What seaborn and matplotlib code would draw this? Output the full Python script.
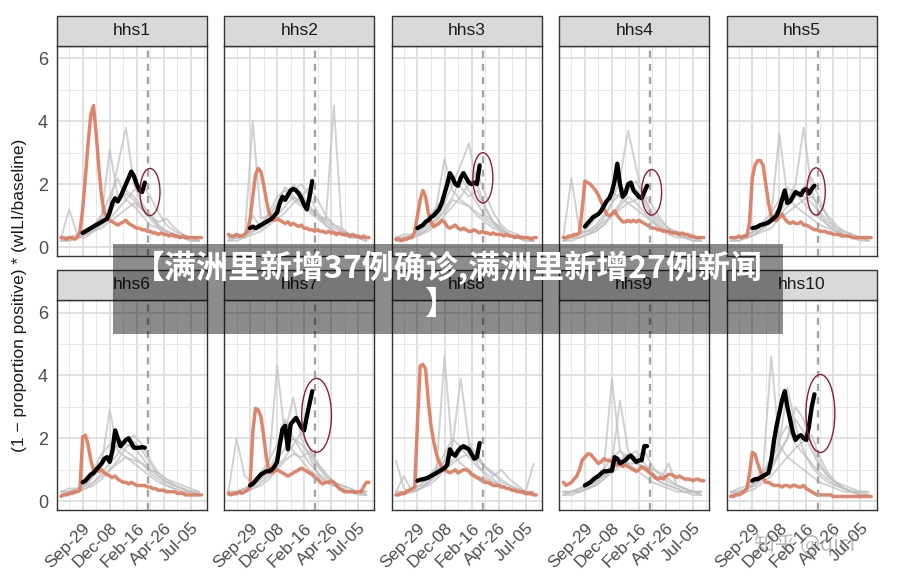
import numpy as np
import pandas as pd
import matplotlib
matplotlib.use("Agg")
import matplotlib.pyplot as plt
import seaborn as sns
from matplotlib.patches import Rectangle, Ellipse
from matplotlib.ticker import FixedLocator

# ---------------- data ----------------
regions = ["hhs1", "hhs2", "hhs3", "hhs4", "hhs5", "hhs6", "hhs7", "hhs8", "hhs9", "hhs10"]
tick_weeks = [8, 18, 28, 38, 48]
tick_labels = ["Sep-29", "Dec-08", "Feb-16", "Apr-26", "Jul-05"]
forecast_week = 32.2
current_start_week = 8
gray_step = 3

# pandemic season (orange), weekly from week 0
orange_hhs1 = [0.3,0.3,0.25,0.3,0.3,0.25,0.3, 0.5,1.2,2.2,3.3,4.2,4.5,3.6,2.5,1.6,1.1,0.95, 0.85,0.8,0.75,0.7,0.75,0.8,0.85,0.75,0.7,0.65,0.6,0.6,0.55, 0.55,0.5,0.5,0.45,0.45,0.4,0.45,0.4,0.4,0.35,0.4,0.35,0.35,0.3,0.35,0.3,0.3,0.3,0.3,0.3,0.3,0.3]
orange_hhs2 = [0.4,0.35,0.35,0.4,0.35,0.35,0.4, 0.5,0.9,1.6,2.3,2.5,2.4,2.0,1.5,1.1,0.9,0.85, 0.9,0.85,0.8,0.75,0.8,0.7,0.75,0.7,0.65,0.7,0.6,0.6,0.55, 0.55,0.5,0.55,0.5,0.5,0.45,0.5,0.45,0.45,0.4,0.45,0.4,0.4,0.4,0.35,0.4,0.35,0.35,0.3,0.35,0.3,0.3]
orange_hhs3 = [0.25,0.25,0.2,0.25,0.25,0.3,0.3, 0.5,1.0,1.5,1.8,1.6,1.1,0.8,0.65,0.7,0.75,0.85, 0.8,0.65,0.6,0.65,0.7,0.6,0.55,0.6,0.55,0.5,0.5,0.55,0.5, 0.45,0.5,0.45,0.45,0.4,0.45,0.4,0.4,0.4,0.35,0.4,0.35,0.35,0.3,0.35,0.3,0.3,0.3,0.3,0.25,0.3,0.3]
orange_hhs4 = [0.3,0.3,0.35,0.35,0.4,0.4,0.45, 1.2,2.1,2.05,2.0,1.9,1.8,1.65,1.45,1.25,1.05,1.0, 1.05,1.15,1.0,0.9,0.8,0.8,0.85,0.8,0.85,0.8,0.85,0.8,0.75, 0.7,0.65,0.6,0.6,0.55,0.55,0.5,0.5,0.5,0.45,0.45,0.45,0.4,0.45,0.4,0.4,0.35,0.35,0.3,0.3,0.3,0.3]
orange_hhs5 = [0.3,0.3,0.3,0.35,0.3,0.35,0.35, 0.8,2.2,2.6,2.75,2.75,2.6,2.0,1.4,1.0,0.85,0.85, 0.95,1.05,0.9,0.8,0.75,0.8,0.75,0.75,0.8,0.7,0.7,0.65,0.6, 0.55,0.55,0.5,0.5,0.5,0.45,0.45,0.4,0.4,0.4,0.35,0.35,0.35,0.35,0.3,0.3,0.3,0.3,0.3,0.3,0.3,0.3]
orange_hhs6 = [0.15,0.2,0.2,0.25,0.25,0.3,0.3, 0.35,2.05,2.1,1.8,1.3,1.0,1.0,0.95,1.0,0.9,0.85, 0.8,0.75,0.8,0.7,0.65,0.6,0.6,0.55,0.6,0.55,0.5,0.5,0.5, 0.5,0.45,0.45,0.4,0.4,0.35,0.35,0.35,0.3,0.3,0.3,0.3,0.25,0.25,0.25,0.2,0.2,0.2,0.2,0.2,0.2,0.2]
orange_hhs7 = [0.25,0.2,0.25,0.25,0.3,0.25,0.3, 0.35,0.45,2.2,2.95,2.9,2.7,2.1,1.4,0.95,0.9,0.95, 1.0,0.95,0.9,0.85,0.8,0.85,0.9,0.95,1.0,1.05,1.0,0.95,0.9, 0.85,0.75,0.7,0.6,0.55,0.6,0.6,0.65,0.6,0.5,0.4,0.35,0.3,0.3,0.3,0.3,0.28,0.3,0.3,0.45,0.6,0.6]
orange_hhs8 = [0.2,0.2,0.25,0.25,0.3,0.35,0.4, 0.45,2.5,4.3,4.35,4.2,3.2,2.4,1.9,1.5,1.25,1.1, 1.0,0.95,0.9,0.95,1.0,0.9,0.95,1.0,1.0,0.95,0.85,0.8,0.75, 0.7,0.65,0.6,0.6,0.55,0.5,0.5,0.5,0.45,0.45,0.4,0.4,0.35,0.35,0.3,0.3,0.3,0.25,0.25,0.25,0.2,0.2]
orange_hhs9 = [0.6,0.5,0.55,0.6,0.7,0.8,1.0, 1.3,1.4,1.5,1.5,1.4,1.3,1.2,1.25,1.35,1.3,1.3, 1.25,1.2,1.15,1.2,1.1,1.15,1.1,1.05,1.0,0.95,1.0,1.1,1.05, 1.0,0.9,0.85,0.75,0.7,0.75,0.7,0.8,0.85,0.85,0.8,0.75,0.8,0.75,0.7,0.7,0.7,0.65,0.7,0.7,0.65,0.65]
orange_hhs10 = [0.15,0.15,0.2,0.2,0.25,0.3,0.4, 0.9,1.55,1.5,1.2,0.95,0.75,0.6,0.6,0.55,0.5,0.5, 0.5,0.45,0.5,0.5,0.45,0.5,0.5,0.45,0.45,0.5,0.4,0.35,0.3, 0.25,0.2,0.2,0.2,0.2,0.2,0.2,0.15,0.15,0.15,0.15,0.15,0.15,0.15,0.15,0.15,0.15,0.15,0.15,0.15,0.15,0.15]

# current season (black), weekly from week 8
black_hhs1 = [0.45,0.5,0.55,0.6,0.65,0.7,0.75,0.8,0.85,0.9, 1.1,1.4,1.55,1.45,1.6,1.8,2.0,2.2,2.4,2.25, 2.0,1.8,1.75,2.05]
black_hhs2 = [0.6,0.65,0.6,0.65,0.7,0.75,0.8,0.85,0.9,1.0, 1.1,1.4,1.6,1.5,1.65,1.8,1.85,1.8,1.7,1.55, 1.35,1.2,1.6,2.1]
black_hhs3 = [0.6,0.65,0.7,0.8,0.85,0.95,1.0,1.1,1.2,1.4, 1.7,2.0,2.35,2.2,2.0,1.95,2.2,2.35,2.2,2.05, 2.0,2.05,2.0,2.6]
black_hhs4 = [0.65,0.75,0.85,0.95,1.0,1.05,1.15,1.3,1.45,1.55, 1.75,2.1,2.65,2.0,1.6,1.7,2.0,2.05,1.8,1.7, 1.6,1.55,1.75,1.95]
black_hhs5 = [0.6,0.62,0.65,0.7,0.72,0.75,0.78,0.85,0.92,1.0, 1.2,1.5,1.8,1.4,1.45,1.6,1.75,1.7,1.65,1.8, 1.85,1.7,1.85,1.95]
black_hhs6 = [0.6,0.65,0.75,0.85,0.9,1.0,1.1,1.2,1.35,1.4, 1.25,1.6,2.25,2.0,1.75,1.85,1.95,2.0,1.85,1.7, 1.7,1.7,1.72,1.7]
black_hhs7 = [0.5,0.55,0.65,0.75,0.85,0.9,0.95,0.95,1.0,1.1, 1.25,1.8,2.3,2.4,1.65,2.45,2.55,2.65,2.5,2.35, 2.25,2.7,3.1,3.5]
black_hhs8 = [0.65,0.68,0.7,0.72,0.75,0.8,0.85,0.9,0.95,1.0, 1.05,1.15,1.65,1.5,1.45,1.6,1.7,1.75,1.7,1.65, 1.5,1.35,1.4,1.85]
black_hhs9 = [0.5,0.55,0.6,0.68,0.75,0.8,0.88,0.95,0.95,0.97, 0.97,1.4,1.35,1.2,1.25,1.3,1.4,1.45,1.35,1.25, 1.3,1.3,1.75,1.75]
black_hhs10 = [0.65,0.7,0.7,0.75,0.8,0.85,0.9,1.3,1.9,2.4, 2.8,3.2,3.5,3.0,2.6,2.2,1.95,2.05,2.1,2.0, 1.95,2.4,3.0,3.4]

# past seasons (gray), every 3 weeks from week 0
gray_hhs1 = [
    [0.2,0.3,0.3,0.4,0.6,0.9,1.3,2.6,3.8,2.0,1.4,1.0,0.7,0.5,0.4,0.3,0.2,0.2],
    [0.3,0.3,0.4,0.5,0.7,1.0,3.1,1.6,1.8,1.6,1.3,1.0,0.7,0.5,0.4,0.3,0.3,0.2],
    [0.2,0.2,0.3,0.3,0.5,0.7,0.9,1.2,1.5,1.8,2.0,1.6,1.1,0.7,0.5,0.4,0.3,0.2],
    [0.3,1.2,0.4,0.4,0.5,0.6,0.8,1.0,1.2,1.4,1.2,1.0,0.8,0.9,0.6,0.4,0.3,0.3],
    [0.3,0.3,0.3,0.4,0.5,0.8,1.1,1.5,1.7,1.5,1.2,0.9,0.6,0.5,0.4,0.3,0.3,0.3],
    [0.2,0.2,0.3,0.4,0.6,1.0,1.6,2.2,1.5,1.3,1.0,0.7,0.6,0.4,0.3,0.3,0.2,0.2]]
gray_hhs2 = [
    [0.3,0.3,0.4,1.0,0.6,0.8,1.2,1.6,2.0,1.7,1.3,1.0,0.7,0.5,0.4,0.3,0.3,0.3],
    [0.2,0.3,0.3,4.0,0.9,1.0,1.3,1.5,1.8,2.0,1.6,1.1,0.8,4.5,0.5,0.4,0.3,0.2],
    [0.3,0.4,0.4,0.5,0.7,1.0,1.4,1.9,1.6,1.4,1.2,1.0,0.9,0.7,0.5,0.4,0.3,0.3],
    [0.2,0.2,0.3,0.4,0.5,0.7,0.9,1.1,1.4,1.6,1.9,1.5,1.0,0.7,0.6,0.4,0.3,0.2],
    [0.3,0.3,0.3,0.5,0.7,1.1,1.6,1.8,1.5,1.3,1.1,0.9,0.7,0.5,0.4,0.3,0.3,0.2],
    [0.2,0.3,0.4,0.5,0.6,0.8,1.0,1.3,1.6,1.4,1.2,1.0,0.8,0.6,0.5,0.4,0.3,0.3]]
gray_hhs3 = [
    [0.2,0.2,0.3,0.4,0.6,0.9,1.4,2.0,2.6,3.3,2.0,1.3,0.8,0.5,0.4,0.3,0.2,0.2],
    [0.3,0.3,0.3,0.5,0.8,1.2,1.7,2.2,1.9,1.6,1.8,1.2,0.8,0.6,0.4,0.3,0.3,0.2],
    [0.2,0.2,0.3,0.4,0.5,0.7,1.0,1.3,1.6,2.0,2.4,1.7,1.1,0.7,0.5,0.4,0.3,0.3],
    [0.3,0.4,0.4,0.5,0.7,0.9,1.1,1.5,1.4,1.3,1.1,0.9,0.7,0.5,0.4,0.3,0.3,0.2],
    [0.3,0.3,0.4,0.6,0.9,1.3,2.8,1.8,1.5,1.3,1.0,0.8,0.6,0.5,0.4,0.3,0.3,0.2],
    [0.2,0.3,0.3,0.4,0.6,0.8,1.2,1.6,2.2,1.8,1.4,1.0,0.8,0.6,0.4,0.3,0.2,0.2]]
gray_hhs4 = [
    [0.3,2.2,0.5,0.5,0.6,0.8,1.0,1.3,1.6,1.4,1.1,0.8,0.6,0.5,0.4,0.3,0.3,0.3],
    [0.2,0.3,0.3,0.4,0.6,0.9,1.4,2.2,3.7,2.5,1.4,0.9,0.6,0.4,0.3,0.3,0.2,0.2],
    [0.3,0.3,0.4,0.5,0.7,1.0,1.4,1.7,2.0,1.8,1.5,1.1,0.8,0.6,0.4,0.3,0.3,0.2],
    [0.2,0.2,0.3,0.4,0.5,0.7,1.0,1.2,1.4,1.5,1.7,1.3,0.9,0.6,0.5,0.4,0.3,0.3],
    [0.3,0.3,0.4,0.6,0.9,1.3,1.7,1.6,1.4,1.2,1.0,0.8,0.6,0.5,0.4,0.3,0.3,0.3],
    [0.2,0.3,0.3,0.4,0.5,0.7,1.0,1.4,1.8,2.1,1.6,1.0,0.7,0.5,0.4,0.3,0.2,0.2]]
gray_hhs5 = [
    [0.3,0.3,0.4,0.5,0.7,1.0,3.6,1.6,1.3,1.1,0.9,0.7,0.6,0.5,0.4,0.3,0.3,0.3],
    [0.2,0.3,0.3,0.4,0.6,0.8,1.1,1.5,2.0,3.8,1.8,1.0,0.7,0.5,0.4,0.3,0.2,0.2],
    [0.3,0.3,0.4,0.5,0.7,0.9,1.3,1.6,1.8,1.6,1.4,1.1,0.8,0.6,0.5,0.4,0.3,0.3],
    [0.2,0.2,0.3,0.4,0.5,0.6,0.9,1.1,1.3,1.5,1.6,1.3,1.0,0.7,0.5,0.4,0.3,0.2],
    [0.3,0.3,0.4,0.5,0.8,1.1,1.5,1.9,1.7,1.4,1.1,0.9,0.7,0.5,0.4,0.3,0.3,0.2],
    [0.2,0.2,0.3,0.4,0.6,0.8,1.0,1.3,1.6,1.9,2.2,1.5,0.9,0.6,0.4,0.3,0.3,0.2]]
gray_hhs6 = [
    [0.2,0.3,0.3,0.5,0.8,1.2,2.9,1.6,1.4,1.2,1.0,0.8,0.6,0.5,0.4,0.3,0.3,0.2],
    [0.3,0.3,0.4,0.6,1.0,1.5,1.8,2.0,1.8,1.7,1.4,1.0,0.8,0.6,0.5,0.4,0.3,0.3],
    [0.2,0.2,0.3,0.4,0.6,0.9,1.2,1.5,1.9,2.1,1.8,1.3,0.9,0.7,0.5,0.4,0.3,0.2],
    [0.3,0.4,0.4,0.5,0.6,0.8,1.0,1.2,1.4,1.3,1.2,1.0,0.9,0.7,0.6,0.5,0.4,0.3],
    [0.3,0.3,0.4,0.5,0.8,1.1,1.5,1.8,1.6,1.4,1.2,0.9,0.7,0.5,0.4,0.3,0.3,0.3],
    [0.2,0.2,0.3,0.4,0.5,0.7,1.0,1.3,1.7,1.9,1.6,1.2,0.8,0.6,0.5,0.4,0.3,0.2]]
gray_hhs7 = [
    [0.3,2.0,0.8,0.6,0.8,1.2,4.3,2.0,1.6,1.3,1.0,0.8,0.6,0.5,0.4,0.3,0.3,0.3],
    [0.2,0.3,0.4,0.5,0.7,1.0,1.5,2.2,3.3,2.0,1.4,0.9,0.6,0.5,0.4,0.3,0.2,0.2],
    [0.3,0.3,0.4,0.5,0.7,0.9,1.3,1.7,2.0,1.8,1.5,1.1,0.8,0.6,0.5,0.4,0.3,0.3],
    [0.2,0.2,0.3,0.4,0.5,0.7,1.0,1.3,1.5,1.4,1.6,1.2,0.9,0.6,0.5,0.4,0.3,0.2],
    [0.3,0.3,0.4,0.6,0.9,1.3,1.8,2.6,2.0,1.6,1.2,0.9,0.7,0.5,0.4,0.3,0.3,0.3],
    [0.2,0.3,0.3,0.4,0.6,0.8,1.1,1.4,1.8,2.2,1.7,1.2,0.8,0.6,0.4,0.3,0.3,0.2]]
gray_hhs8 = [
    [0.3,0.8,0.3,0.4,0.6,1.0,4.6,1.5,1.2,1.0,0.8,0.7,0.6,0.5,0.4,0.3,0.3,0.2],
    [0.2,0.3,0.3,0.4,0.6,0.9,1.3,1.8,3.9,1.9,1.2,0.8,0.6,0.5,0.4,0.3,0.2,0.2],
    [0.3,0.3,0.4,0.5,0.7,1.0,1.3,1.5,1.7,1.6,1.4,1.1,0.9,0.7,0.5,0.4,0.3,0.3],
    [0.2,0.2,0.3,0.4,0.5,0.7,1.0,1.2,1.4,1.5,1.3,1.1,0.8,1.0,0.7,0.5,0.3,0.2],
    [0.3,0.3,0.4,0.5,0.8,1.1,1.5,2.0,1.7,1.4,1.1,0.9,0.7,0.5,0.4,0.3,0.3,0.3],
    [1.3,0.4,0.3,0.4,0.6,0.8,1.1,1.3,1.6,1.8,1.5,1.1,0.9,0.6,0.5,0.4,0.3,1.2]]
gray_hhs9 = [
    [0.3,0.3,0.4,0.5,0.7,1.0,3.9,1.6,1.2,1.0,0.8,0.6,0.5,0.4,0.3,0.3,0.3,0.3],
    [0.2,0.3,0.3,0.4,0.6,0.8,1.2,3.2,1.6,1.3,1.0,0.8,0.6,0.5,0.4,0.3,0.2,0.2],
    [0.3,0.3,0.4,0.5,0.6,0.8,1.0,1.3,1.5,1.4,1.6,1.1,0.8,0.6,0.5,0.4,0.3,0.3],
    [0.2,0.2,0.3,0.4,0.5,0.7,0.9,1.1,1.2,1.2,1.1,1.0,0.9,0.7,0.5,0.4,0.3,0.2],
    [0.3,0.3,0.4,0.5,0.7,1.0,1.4,1.6,1.4,1.2,1.0,0.8,0.6,0.5,0.4,0.3,0.3,0.3],
    [0.2,0.3,0.3,0.4,0.5,0.7,1.0,1.2,1.4,1.6,1.2,0.9,0.7,1.2,0.5,0.4,0.3,0.2]]
gray_hhs10 = [
    [0.3,0.4,0.5,0.7,1.0,4.6,1.8,1.4,1.2,1.0,0.8,0.6,0.5,0.4,0.3,0.3,0.2,0.2],
    [0.2,0.3,0.4,0.6,0.9,1.3,1.8,3.6,2.4,1.6,1.1,0.8,0.6,0.5,0.4,0.3,0.2,0.2],
    [0.3,0.3,0.4,0.5,0.7,1.0,1.5,2.0,2.6,2.2,1.6,1.1,0.8,0.6,0.4,0.3,0.3,0.3],
    [0.2,0.2,0.3,0.4,0.6,0.8,1.1,1.4,1.7,1.9,2.1,1.4,0.9,0.6,0.5,0.4,0.3,0.2],
    [0.3,0.3,0.4,0.6,0.9,1.4,2.0,2.4,1.8,1.5,1.2,0.9,0.7,0.5,0.4,0.3,0.3,0.3],
    [0.2,0.3,0.4,0.5,0.8,1.1,1.6,2.0,3.0,2.6,1.8,1.2,0.8,0.6,0.4,0.3,0.2,0.2]]

# highlighted regions: (center week, center value, width weeks, height)
highlight_hhs1 = (32.9, 1.75, 7.4, 1.5)
highlight_hhs3 = (32.2, 2.2, 7.4, 1.6)
highlight_hhs4 = (32.7, 1.74, 7.4, 1.45)
highlight_hhs5 = (31.6, 1.77, 6.8, 1.5)
highlight_hhs7 = (32.6, 2.73, 11.0, 2.35)
highlight_hhs10 = (33.2, 2.79, 10.7, 2.48)

orange_all = [orange_hhs1, orange_hhs2, orange_hhs3, orange_hhs4, orange_hhs5,
              orange_hhs6, orange_hhs7, orange_hhs8, orange_hhs9, orange_hhs10]
black_all = [black_hhs1, black_hhs2, black_hhs3, black_hhs4, black_hhs5,
             black_hhs6, black_hhs7, black_hhs8, black_hhs9, black_hhs10]
gray_all = [gray_hhs1, gray_hhs2, gray_hhs3, gray_hhs4, gray_hhs5,
            gray_hhs6, gray_hhs7, gray_hhs8, gray_hhs9, gray_hhs10]
highlights = {"hhs1": highlight_hhs1, "hhs3": highlight_hhs3, "hhs4": highlight_hhs4,
              "hhs5": highlight_hhs5, "hhs7": highlight_hhs7, "hhs10": highlight_hhs10}

rows = []
for r, o, b, g in zip(regions, orange_all, black_all, gray_all):
    for w, v in enumerate(o):
        rows.append((r, "pandemic", w, v))
    for i, v in enumerate(b):
        rows.append((r, "current", current_start_week + i, v))
    for k, s in enumerate(g):
        for i, v in enumerate(s):
            rows.append((r, f"past{k}", i * gray_step, v))
df = pd.DataFrame(rows, columns=["region", "season", "week", "value"])

# ---------------- style ----------------
sns.set_theme(style="white")
plt.rcParams["font.family"] = ["Liberation Sans", "Noto Sans CJK SC", "DejaVu Sans"]

W, H = 900, 579
fig, axes = plt.subplots(2, 5, figsize=(9, 5.79), dpi=100)
fig.patch.set_facecolor("white")
plt.subplots_adjust(left=57 / W, right=876.6 / W, top=1 - 45.8 / H, bottom=1 - 510 / H,
                    wspace=0.116, hspace=0.21)

ORANGE = "#dd7b5e"
GRAY = "#c0c0c0"
DARK = "#333333"
strip_h = 30 / 210

for idx, (ax, r) in enumerate(zip(axes.flat, regions)):
    sub = df[df["region"] == r]
    past = sub[sub["season"].str.startswith("past")]
    sns.lineplot(data=past, x="week", y="value", units="season", estimator=None,
                 color=GRAY, lw=1.4, alpha=0.72, ax=ax, legend=False, zorder=2)
    sns.lineplot(data=sub[sub["season"] == "pandemic"], x="week", y="value",
                 color=ORANGE, lw=2.5, alpha=0.92, ax=ax, legend=False, zorder=3)
    sns.lineplot(data=sub[sub["season"] == "current"], x="week", y="value",
                 color="black", lw=3.1, ax=ax, legend=False, zorder=4)
    ax.axvline(forecast_week, color="#a3a3a3", lw=1.7, ls=(0, (3, 2.6)), zorder=3.5)
    if r in highlights:
        cx, cy, ew, eh = highlights[r]
        ax.add_patch(Ellipse((cx, cy), ew, eh, fill=False, ec="#8e1f33", lw=1.0, zorder=5))

    ax.set_xlim(-1.5, 54)
    ax.set_ylim(-0.28, 6.4)
    ax.set_xlabel("")
    ax.set_ylabel("")
    ax.set_facecolor("white")
    ax.set_axisbelow(True)
    ax.set_xticks(tick_weeks)
    ax.set_yticks([0, 2, 4, 6])
    ax.xaxis.set_minor_locator(FixedLocator([3, 13, 23, 33, 43, 53]))
    ax.yaxis.set_minor_locator(FixedLocator([1, 3, 5]))
    ax.grid(which="major", color="#dedede", lw=1.3)
    ax.grid(which="minor", color="#e8e8e8", lw=0.7)
    ax.tick_params(which="minor", length=0)
    ax.tick_params(which="major", direction="out", length=4.5, width=1.1, color=DARK,
                   labelcolor="#4d4d4d", labelsize=12.5, pad=2)
    for s in ax.spines.values():
        s.set_visible(True)
        s.set_color(DARK)
        s.set_linewidth(1.0)

    row, col = divmod(idx, 5)
    if row == 1:
        ax.set_xticklabels(tick_labels)
        plt.setp(ax.get_xticklabels(), rotation=45, ha="right", va="top",
                 rotation_mode="anchor")
        ax.tick_params(axis="x", pad=3)
    else:
        ax.tick_params(axis="x", length=0, labelbottom=False)
    if col == 0:
        ax.set_yticklabels(["0", "2", "4", "6"])
        ax.tick_params(axis="y", labelsize=13)
    else:
        ax.tick_params(axis="y", length=0, labelleft=False)

    ax.add_patch(Rectangle((0, 1), 1, strip_h, transform=ax.transAxes, clip_on=False,
                           fc="#d9d9d9", ec=DARK, lw=1.0, zorder=6))
    ax.text(0.5, 1 + strip_h / 2, r, transform=ax.transAxes, ha="center", va="center",
            fontsize=12.5, color="#1a1a1a", zorder=7)

fig.text(20 / W, 1 - 295 / H, "(1 \u2212 proportion positive) * (wILI/baseline)",
         rotation=90, ha="center", va="center", fontsize=12.5, color="#1a1a1a")

# overlay banner
banner = Rectangle((113 / W, 1 - 334 / H), 670 / W, 90 / H, transform=fig.transFigure,
                   fc="black", alpha=0.45, lw=0, zorder=20)
fig.add_artist(banner)
cjk = ["Noto Sans CJK SC", "DejaVu Sans"]
fig.text(448 / W, 1 - 268 / H, "【满洲里新增37例确诊,满洲里新增27例新闻",
         ha="center", va="center", color="white", fontsize=23, fontweight="bold",
         family=cjk, zorder=21)
fig.text(440 / W, 1 - 305 / H, "】", ha="center", va="center", color="white",
         fontsize=23, fontweight="bold", family=cjk, zorder=21)

fig.text(805 / W, 1 - 545 / H, "知乎 @qici", ha="center", va="center", color="#666666",
         alpha=0.45, fontsize=15, family=cjk, zorder=21)

fig.savefig("out.png", dpi=100, facecolor="white")
